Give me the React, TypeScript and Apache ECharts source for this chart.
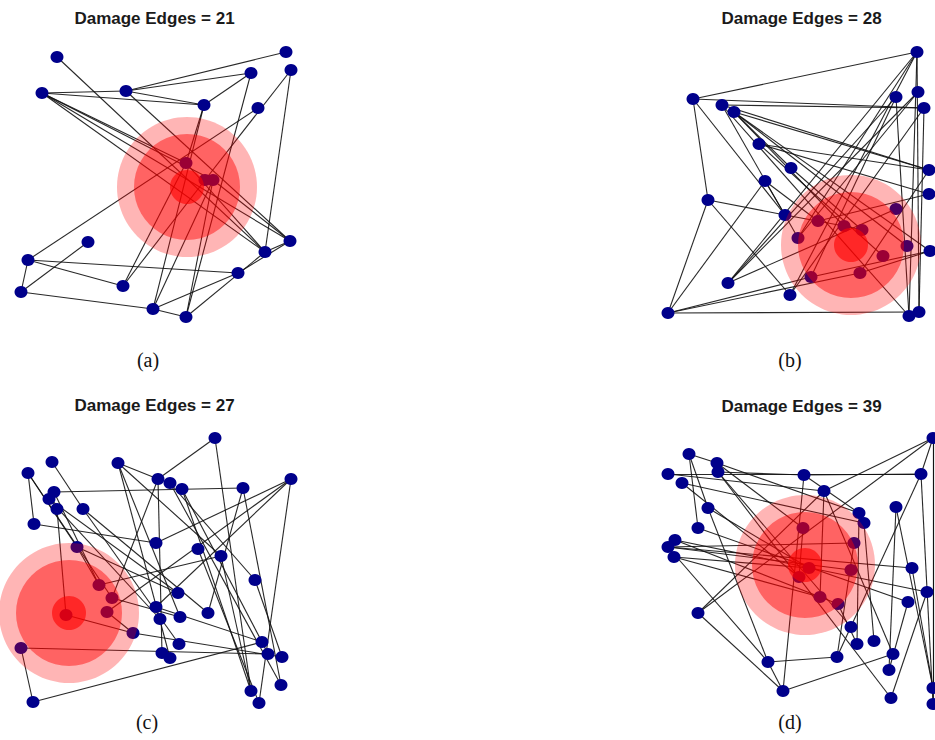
import React, { useEffect, useRef } from "react";
import * as echarts from "echarts";

// Node positions of each network (page pixel coordinates)
const nodesA: number[][] = [
  [57, 57], [286, 52], [251, 73], [291, 70], [42, 93], [126, 91], [204, 105], [258, 108],
  [186, 163], [205, 180], [213, 180], [290, 241], [265, 252], [88, 242], [28, 260],
  [238, 273], [123, 286], [21, 292], [153, 309], [186, 317],
];
const edgesA: number[][] = [
  [0, 12], [1, 5], [2, 5], [2, 6], [3, 12], [3, 9], [4, 5], [4, 6], [5, 6], [4, 8], [4, 11],
  [4, 12], [4, 10], [5, 11], [6, 8], [6, 18], [2, 19], [7, 14], [13, 17], [14, 17], [14, 16],
  [14, 15], [17, 18], [18, 15], [18, 19], [19, 12], [15, 11], [16, 8], [16, 9], [18, 10],
  [19, 10], [10, 11], [12, 11], [8, 12],
];

const nodesB: number[][] = [
  [917, 52], [693, 99], [722, 105], [734, 112], [896, 97], [918, 92], [924, 108], [759, 144],
  [791, 168], [765, 181], [929, 170], [929, 194], [708, 200], [785, 215], [818, 221],
  [896, 209], [798, 238], [844, 226], [862, 230], [907, 246], [883, 256], [930, 251],
  [728, 283], [811, 277], [860, 273], [790, 295], [668, 313], [909, 316], [919, 312],
];
const edgesB: number[][] = [
  [1, 0], [1, 6], [1, 12], [1, 13], [2, 6], [2, 10], [3, 10], [3, 21], [3, 17], [2, 16],
  [3, 19], [7, 10], [7, 20], [12, 13], [12, 26], [12, 25], [26, 23], [26, 24], [26, 9],
  [26, 28], [22, 0], [22, 5], [22, 4], [25, 0], [25, 6], [16, 0], [16, 5], [23, 4], [0, 27],
  [0, 28], [6, 28], [4, 27], [9, 13], [9, 14], [14, 11], [23, 21], [24, 21], [18, 17],
  [2, 27], [8, 18], [3, 8], [13, 17], [22, 15], [24, 10], [7, 11],
];

const nodesC: number[][] = [
  [215, 438], [52, 462], [118, 463], [28, 473], [158, 479], [170, 483], [182, 489],
  [243, 488], [291, 479], [54, 492], [49, 499], [57, 509], [83, 509], [34, 524], [77, 547],
  [156, 543], [198, 549], [221, 556], [255, 580], [99, 585], [112, 598], [178, 593],
  [107, 612], [66, 615], [156, 607], [160, 619], [180, 617], [208, 613], [133, 633],
  [21, 648], [179, 644], [262, 642], [162, 653], [170, 658], [268, 654], [282, 657],
  [281, 685], [251, 691], [259, 703], [33, 702],
];
const edgesC: number[][] = [
  [0, 4], [0, 37], [1, 12], [2, 4], [2, 26], [2, 33], [3, 20], [3, 14], [9, 7], [7, 36],
  [8, 15], [8, 24], [8, 38], [8, 22], [13, 15], [11, 23], [23, 28], [29, 34], [29, 39],
  [39, 31], [14, 19], [14, 21], [16, 38], [17, 37], [6, 37], [5, 36], [10, 25], [10, 21],
  [12, 30], [12, 27], [4, 32], [18, 35], [31, 34], [19, 17], [20, 26], [3, 13], [5, 18],
  [6, 31], [22, 28], [28, 35], [24, 31], [9, 19], [2, 17], [7, 27], [4, 20],
];

const nodesD: number[][] = [
  [933, 438], [689, 454], [717, 463], [718, 472], [668, 474], [682, 483], [804, 475],
  [921, 474], [824, 491], [708, 508], [896, 507], [859, 513], [864, 523], [698, 528],
  [803, 528], [675, 540], [668, 547], [674, 557], [854, 543], [912, 568], [809, 568],
  [799, 577], [851, 570], [927, 592], [908, 602], [820, 597], [838, 604], [698, 613],
  [851, 627], [857, 644], [874, 641], [893, 654], [768, 662], [837, 657], [889, 670],
  [783, 691], [891, 698], [933, 688], [933, 704],
];
const edgesD: number[][] = [
  [0, 8], [0, 37], [0, 38], [0, 27], [1, 13], [1, 2], [4, 8], [4, 7], [6, 7], [7, 38],
  [10, 34], [2, 14], [3, 36], [16, 18], [16, 22], [16, 19], [17, 25], [15, 26], [27, 8],
  [27, 35], [32, 33], [32, 35], [35, 31], [35, 6], [32, 9], [5, 21], [5, 12], [9, 20],
  [2, 11], [3, 28], [13, 24], [11, 29], [12, 30], [18, 33], [14, 21], [8, 25], [6, 11],
  [7, 33], [19, 37], [8, 31], [15, 23], [17, 20], [3, 6], [1, 9], [10, 37], [23, 36],
  [24, 34], [26, 29], [0, 7], [16, 32],
];

// Damage centres and the radii of the three damage zones
const damageCentres: number[][] = [[187, 187], [851, 245], [69, 613], [805, 565]];
const damageRadii: number[] = [70, 53, 17];
const damageAlpha: number[] = [0.29, 0.45, 0.6];

const damageCounts: number[] = [21, 28, 27, 39];
const captions: string[] = ["(a)", "(b)", "(c)", "(d)"];

// Panel frames: [left, top, width, height]
const panels: number[][] = [
  [0, 0, 320, 340],
  [620, 0, 315, 340],
  [0, 380, 320, 340],
  [620, 380, 315, 340],
];
const titlePos: number[][] = [[154.5, 18.5], [801.5, 18.5], [154.5, 405], [801.5, 406]];
const captionPos: number[][] = [[148, 360], [790, 360], [147, 722], [790, 722]];

const allNodes = [nodesA, nodesB, nodesC, nodesD];
const allEdges = [edgesA, edgesB, edgesC, edgesD];

export default function App() {
  const ref = useRef<HTMLDivElement>(null);

  useEffect(() => {
    document.body.style.margin = "0";
    if (!ref.current) return;
    const chart = echarts.init(ref.current, undefined, { renderer: "svg" });

    const grids = panels.map(([l, t, w, h]) => ({ left: l, top: t, width: w, height: h, containLabel: false }));
    const xAxes = panels.map(([l, , w], i) => ({
      type: "value", gridIndex: i, min: l, max: l + w, show: false,
    }));
    const yAxes = panels.map(([, t, , h], i) => ({
      type: "value", gridIndex: i, min: t, max: t + h, inverse: true, show: false,
    }));

    const series: any[] = [];
    allNodes.forEach((nodes, i) => {
      series.push({
        type: "graph",
        coordinateSystem: "cartesian2d",
        xAxisIndex: i,
        yAxisIndex: i,
        data: nodes.map((p, k) => ({ name: `n${k}`, value: p })),
        links: allEdges[i].map(([s, t]) => ({ source: `n${s}`, target: `n${t}` })),
        symbol: "circle",
        symbolSize: [13, 12],
        itemStyle: { color: "#00008b" },
        lineStyle: { color: "#111111", width: 1.1, opacity: 0.9, curveness: 0 },
        label: { show: false },
        silent: true,
        z: 2,
      });
      series.push({
        type: "custom",
        coordinateSystem: "cartesian2d",
        xAxisIndex: i,
        yAxisIndex: i,
        silent: true,
        z: 5,
        clip: false,
        data: damageRadii.map((r) => [damageCentres[i][0], damageCentres[i][1], r]),
        encode: { x: 0, y: 1 },
        renderItem: (params: any, api: any) => {
          const c = api.coord([api.value(0), api.value(1)]);
          const s = api.size([api.value(2), api.value(2)]);
          return {
            type: "circle",
            shape: { cx: c[0], cy: c[1], r: s[0] },
            style: { fill: `rgba(255,0,0,${damageAlpha[params.dataIndex]})` },
          };
        },
      });
    });

    const graphic: any[] = [];
    titlePos.forEach(([x, y], i) => {
      graphic.push({
        type: "text",
        x,
        y,
        z: 10,
        style: {
          text: `Damage Edges = ${damageCounts[i]}`,
          fontFamily: "Liberation Sans, Arial, sans-serif",
          fontWeight: "bold",
          fontSize: 17,
          fill: "#1a1a1a",
          textAlign: "center",
          textVerticalAlign: "middle",
        },
      });
    });
    captionPos.forEach(([x, y], i) => {
      graphic.push({
        type: "text",
        x,
        y,
        z: 10,
        style: {
          text: captions[i],
          fontFamily: "Liberation Serif, Times New Roman, serif",
          fontSize: 20,
          fill: "#111",
          textAlign: "center",
          textVerticalAlign: "middle",
        },
      });
    });

    chart.setOption({
      animation: false,
      backgroundColor: "#ffffff",
      grid: grids,
      xAxis: xAxes,
      yAxis: yAxes,
      series,
      graphic,
    });

    return () => chart.dispose();
  }, []);

  return <div ref={ref} style={{ width: 935, height: 740 }} />;
}
